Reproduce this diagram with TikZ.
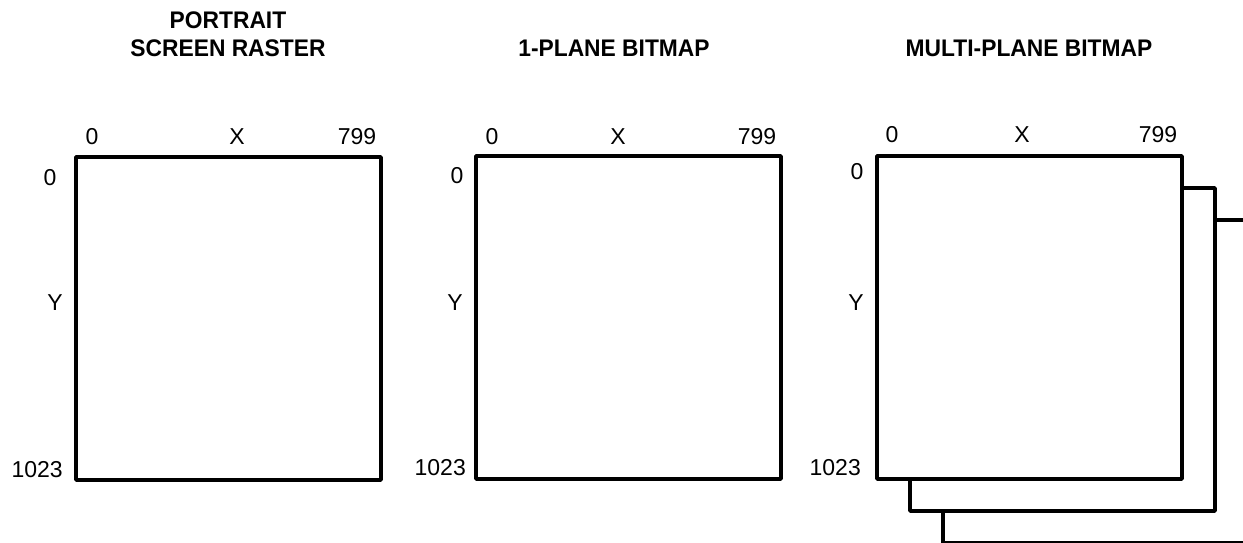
\documentclass[tikz,border=0pt]{standalone}
\usepackage{fontspec}
\setmainfont{Liberation Sans}
\newfontfamily\titlefont[FakeStretch=0.95]{Liberation Sans}
\begin{document}
\begin{tikzpicture}[x=1pt,y=-1pt,
  plane/.style={draw=black, line width=3.5pt, fill=white, line join=round,
    minimum width=305pt, minimum height=323pt, inner sep=0pt, outer sep=0pt, anchor=north west},
  lbl/.style={font=\fontsize{23}{26}\selectfont, inner sep=0pt},
  ttl/.style={font=\titlefont\bfseries\fontsize{24}{28}\selectfont, inner sep=0pt}]
\useasboundingbox (0,0) rectangle (1243,542);
\clip (0,0) rectangle (1243,542);
% titles
\node[ttl] (t1a) at (228,20) {PORTRAIT};
\node[ttl] (t1b) at (228,48) {SCREEN RASTER};
\node[ttl] (t2) at (614,48) {1-PLANE BITMAP};
\node[ttl] (t3) at (1029,48) {MULTI-PLANE BITMAP};
% box 1
\node[plane] (b1) at (76,157) {};
\node[lbl] (b1x0) at (92,137) {0};
\node[lbl] (b1x) at (237,137) {X};
\node[lbl] (b1x1) at (357,137) {799};
\node[lbl] (b1y0) at (50,178) {0};
\node[lbl] (b1y) at (55,303) {Y};
\node[lbl, anchor=east] (b1y1) at (63,470) {1023};
% box 2
\node[plane] (b2) at (476,156) {};
\node[lbl] (b2x0) at (492,137) {0};
\node[lbl] (b2x) at (618,137) {X};
\node[lbl] (b2x1) at (757,137) {799};
\node[lbl] (b2y0) at (457,176) {0};
\node[lbl] (b2y) at (455,303) {Y};
\node[lbl, anchor=east] (b2y1) at (466,468) {1023};
% box 3 with planes behind
\node[plane] (b3c) at (943,220) {};
\node[plane] (b3b) at (910,188) {};
\node[plane] (b3) at (877,156) {};
\node[lbl] (b3x0) at (892,135) {0};
\node[lbl] (b3x) at (1022,135) {X};
\node[lbl] (b3x1) at (1158,135) {799};
\node[lbl] (b3y0) at (857,172) {0};
\node[lbl] (b3y) at (856,303) {Y};
\node[lbl, anchor=east] (b3y1) at (861,468) {1023};
\end{tikzpicture}
\end{document}
